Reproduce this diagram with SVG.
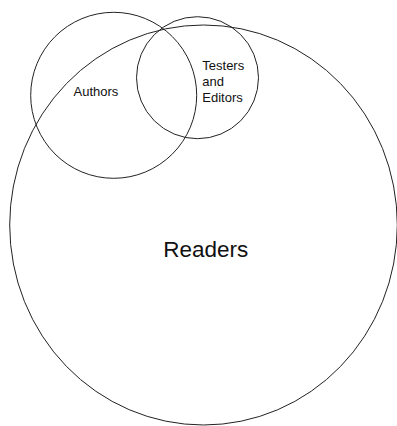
<svg xmlns="http://www.w3.org/2000/svg" width="397" height="426" viewBox="0 0 397 426">
<style>
.c{fill:none;stroke:#222;stroke-width:1}
.t{font-family:"Liberation Sans",Arial,sans-serif;fill:#111}
</style>
<rect width="397" height="426" fill="#fff"/>
<g id="readers">
<ellipse class="c" cx="203.5" cy="225" rx="193.8" ry="200"/>
<text class="t" x="163.3" y="256.7" font-size="22.5">Readers</text>
</g>
<g id="authors">
<circle class="c" cx="113.7" cy="95.3" r="83"/>
<text class="t" x="73.5" y="95.7" font-size="13">Authors</text>
</g>
<g id="testers">
<circle class="c" cx="197.5" cy="77.7" r="61"/>
<text class="t" font-size="13"><tspan x="202.3" y="70.3">Testers</tspan><tspan x="202.3" y="86">and</tspan><tspan x="202.3" y="101.7">Editors</tspan></text>
</g>
<g id="connectors"/>
</svg>
